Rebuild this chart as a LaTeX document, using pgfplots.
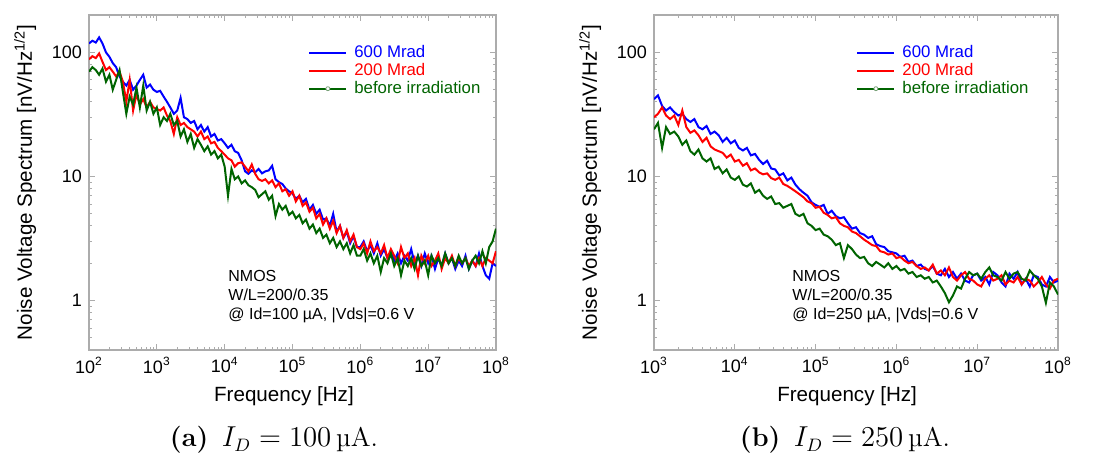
\documentclass[border=0pt]{standalone}
\usepackage{fontspec}
\usepackage{pgfplots}
\usepackage{pgfplotstable}
\pgfplotsset{compat=1.18}
\newfontfamily\arial{Liberation Sans}
\definecolor{dgreen}{RGB}{0,100,0}
\definecolor{lgreen}{RGB}{120,160,120}

% left panel: Id = 100 uA
\pgfplotstableread{
f b r g
1.00e2 118 88 70
1.12e2 124 93 76
1.26e2 120 90 72
1.41e2 132 98 66
1.58e2 118 84 74
1.78e2 100 72 58
2.00e2 92 76 66
2.24e2 82 70 50
2.51e2 76 64 60
2.82e2 64 70 72
3.16e2 58 58 48
3.55e2 54 40 32
3.98e2 60 60 44
4.47e2 50 34 38
5.01e2 54 46 52
5.62e2 60 38 36
6.31e2 66 42 54
7.08e2 52 36 34
7.94e2 55 40 40
8.91e2 50 36 32
1.00e3 48 35 36
1.12e3 49 34 26
1.26e3 44 36 30
1.41e3 40 31 28
1.58e3 36 28 32
1.78e3 32 22 26
2.00e3 34 30 28
2.24e3 43 26 21
2.51e3 30 27 24
2.82e3 29 25 19
3.16e3 27 24 22
3.55e3 28 23 17
3.98e3 24 21 20
4.47e3 26 23 18
5.01e3 23 20 16
5.62e3 25 21 17.5
6.31e3 21 18.5 15
7.08e3 22 19 16
7.94e3 19.5 17 14
8.91e3 20 16 15
1.00e4 18.5 15 12
1.12e4 17 14 7.0
1.26e4 18 13.5 11.5
1.41e4 16 12 9.5
1.58e4 15.5 12.8 10
1.78e4 13.5 13 8.8
2.00e4 11 12 9.3
2.24e4 10.5 11 8.5
2.51e4 11.2 12.5 8.2
2.82e4 10.8 10.5 7.8
3.16e4 11.5 9.5 6.8
3.55e4 10.6 9.2 7.2
3.98e4 11 9.5 7.6
4.47e4 11.2 8.8 6.5
5.01e4 12.2 9.3 7.0
5.62e4 9.5 8.2 4.8
6.31e4 9.0 8.8 6.0
7.08e4 8.7 7.6 5.4
7.94e4 8.0 7.9 5.8
8.91e4 7.6 7.0 4.9
1.00e5 7.3 7.6 5.2
1.12e5 6.6 6.3 4.6
1.26e5 7.0 7.0 4.9
1.41e5 6.2 5.8 4.2
1.58e5 6.6 6.2 4.5
1.78e5 5.4 5.2 3.8
2.00e5 5.9 5.6 4.1
2.24e5 5.0 4.6 3.5
2.51e5 5.4 5.0 3.8
2.82e5 4.5 4.1 3.2
3.16e5 4.6 4.6 3.4
3.55e5 4.0 3.8 2.9
3.98e5 5.0 4.4 3.2
4.47e5 3.6 3.5 2.7
5.01e5 4.0 4.0 3.0
5.62e5 3.2 3.2 2.6
6.31e5 3.6 3.7 2.9
7.08e5 2.9 3.0 2.4
7.94e5 3.3 3.4 2.8
8.91e5 2.7 2.7 2.3
1.00e6 2.7 2.6 2.3
1.12e6 3.0 2.9 2.6
1.26e6 2.5 2.4 2.1
1.41e6 2.8 3.0 2.4
1.58e6 2.4 2.5 2.0
1.78e6 2.9 2.7 2.3
2.00e6 2.3 2.4 1.7
2.24e6 2.6 2.8 2.2
2.51e6 2.2 2.2 2.0
2.82e6 2.5 2.6 2.4
3.16e6 2.1 2.3 1.9
3.55e6 2.4 2.0 2.2
3.98e6 2.0 2.7 1.6
4.47e6 2.3 2.2 2.1
5.01e6 2.1 2.4 1.9
5.62e6 2.6 1.9 2.2
6.31e6 2.0 2.2 1.8
7.08e6 2.3 1.6 2.3
7.94e6 1.9 2.3 1.9
8.91e6 2.4 2.0 2.1
1.00e7 2.0 2.3 1.6
1.12e7 2.3 1.9 2.3
1.26e7 1.8 2.1 2.0
1.41e7 2.2 2.4 2.2
1.58e7 1.9 1.8 1.9
1.78e7 2.4 2.2 2.4
2.00e7 2.0 2.0 2.0
2.24e7 2.2 2.3 2.2
2.51e7 1.8 1.9 1.9
2.82e7 2.1 2.2 2.3
3.16e7 1.9 2.0 2.0
3.55e7 2.3 2.2 2.2
3.98e7 1.8 1.9 1.8
4.47e7 2.1 2.1 2.1
5.01e7 1.9 1.9 2.3
5.62e7 2.4 2.2 2.0
6.31e7 1.9 1.9 2.5
7.08e7 1.6 2.2 2.0
7.94e7 1.5 2.1 2.7
8.91e7 2.0 2.0 3.0
1.00e8 1.9 2.5 3.8
}\tabA

% right panel: Id = 250 uA
\pgfplotstableread{
f b r g
1.00e3 42 30 24
1.12e3 45 32 27
1.26e3 37 36 17
1.41e3 34 31 25
1.58e3 36 29 22
1.78e3 33 31 23
2.00e3 31 26 21
2.24e3 32 34 18
2.51e3 29 25 19.5
2.82e3 27.5 22.5 16
3.16e3 29 23.5 15
3.55e3 25 21.5 16.5
3.98e3 24 19 14
4.47e3 25.5 20.5 13.2
5.01e3 22 17.5 14
5.62e3 23 16.5 11.5
6.31e3 21.5 16 12
7.08e3 19 15.5 10.6
7.94e3 20.5 14.2 11.4
8.91e3 18.5 15 9.8
1.00e4 19.5 13.2 9.4
1.12e4 17 13.6 10
1.26e4 16.2 12.2 8.6
1.41e4 17 12.8 8.3
1.58e4 14.8 11.2 8.8
1.78e4 15.2 11.6 7.4
2.00e4 13.6 10.8 7.8
2.24e4 12.6 10.4 7.0
2.51e4 13.4 10.6 6.6
2.82e4 11.6 9.7 6.9
3.16e4 11.4 9.4 6.0
3.55e4 10.2 9.8 6.1
3.98e4 10.6 8.7 5.6
4.47e4 9.3 8.4 5.8
5.01e4 9.8 8.0 6.0
5.62e4 8.6 7.6 5.0
6.31e4 7.9 7.2 4.8
7.08e4 7.4 6.8 5.0
7.94e4 7.0 6.3 4.2
8.91e4 6.2 6.1 4.0
1.00e5 5.9 5.6 3.7
1.12e5 5.7 5.7 3.8
1.26e5 5.9 5.1 3.4
1.41e5 5.0 4.9 3.3
1.58e5 5.3 4.6 3.1
1.78e5 4.8 4.7 2.8
2.00e5 4.6 4.2 2.9
2.24e5 4.7 4.0 2.2
2.51e5 4.2 3.9 2.8
2.82e5 3.8 3.6 2.6
3.16e5 3.9 3.5 2.35
3.55e5 3.5 3.3 2.2
3.98e5 3.4 3.1 2.25
4.47e5 3.2 2.95 2.0
5.01e5 3.3 2.8 1.9
5.62e5 2.85 2.75 2.05
6.31e5 2.75 2.5 1.95
7.08e5 2.7 2.45 1.85
7.94e5 2.5 2.35 2.0
8.91e5 2.45 2.4 1.8
1.00e6 2.4 2.2 1.9
1.12e6 2.25 2.25 1.75
1.26e6 2.3 2.1 1.8
1.41e6 2.05 2.0 1.65
1.58e6 2.1 2.05 1.7
1.78e6 1.9 1.9 1.55
2.00e6 1.95 1.8 1.6
2.24e6 1.8 1.85 1.5
2.51e6 1.75 1.75 1.55
2.82e6 1.9 1.95 1.4
3.16e6 1.65 1.65 1.45
3.55e6 1.6 1.75 1.3
3.98e6 1.8 1.6 1.15
4.47e6 1.55 1.85 0.97
5.01e6 1.7 1.55 1.1
5.62e6 1.5 1.45 1.3
6.31e6 1.65 1.6 1.25
7.08e6 1.45 1.7 1.5
7.94e6 1.4 1.5 1.7
8.91e6 1.6 1.45 1.6
1.00e7 1.65 1.35 1.65
1.12e7 1.45 1.3 1.5
1.26e7 1.55 1.5 1.7
1.41e7 1.35 1.6 1.85
1.58e7 1.7 1.45 1.6
1.78e7 1.6 1.5 1.55
2.00e7 1.4 1.6 1.45
2.24e7 1.3 1.35 1.7
2.51e7 1.65 1.45 1.5
2.82e7 1.5 1.4 1.65
3.16e7 1.7 1.55 1.7
3.55e7 1.35 1.35 1.5
3.98e7 1.5 1.5 1.45
4.47e7 1.3 1.45 1.75
5.01e7 1.6 1.3 1.6
5.62e7 1.55 1.4 1.5
6.31e7 1.35 1.55 1.3
7.08e7 1.3 1.35 0.96
7.94e7 1.55 1.25 1.4
8.91e7 1.4 1.45 1.3
1.00e8 1.45 1.5 1.12
}\tabB

\begin{document}
\begin{tikzpicture}
\useasboundingbox (0,0) rectangle (552pt,231.5pt);

\begin{axis}[
  xmode=log, ymode=log,
  scale only axis,
  at={(44.5pt,56.5pt)}, anchor=south west,
  width=203.5pt, height=167.5pt,
  xmin=1e2, xmax=1e8, ymin=0.4, ymax=200,
  axis line style={gray!65, line width=0.6pt},
  tick style={gray!65, line width=0.5pt},
  major tick length=3pt, minor tick length=1.6pt,
  xtick={1e2,1e3,1e4,1e5,1e6,1e7,1e8},
  xticklabels={10\textsuperscript{2},10\textsuperscript{3},10\textsuperscript{4},10\textsuperscript{5},10\textsuperscript{6},10\textsuperscript{7},10\textsuperscript{8}},
  ytick={1,10,100}, yticklabels={1,10,100},
  minor xtick={2e2,3e2,4e2,5e2,6e2,7e2,8e2,9e2,2e3,3e3,4e3,5e3,6e3,7e3,8e3,9e3,2e4,3e4,4e4,5e4,6e4,7e4,8e4,9e4,2e5,3e5,4e5,5e5,6e5,7e5,8e5,9e5,2e6,3e6,4e6,5e6,6e6,7e6,8e6,9e6,2e7,3e7,4e7,5e7,6e7,7e7,8e7,9e7},
  minor ytick={0.5,0.6,0.7,0.8,0.9,2,3,4,5,6,7,8,9,20,30,40,50,60,70,80,90,200},
  tick label style={font=\arial\fontsize{9}{10}\selectfont, black},
  label style={font=\arial\fontsize{10.3}{12}\selectfont},
  xlabel={Frequency [Hz]},
  ylabel={Noise Voltage Spectrum [nV/Hz\textsuperscript{1/2}]},
  xlabel style={at={(axis description cs:0.479,-0.137)}, anchor=center},
  ylabel style={at={(axis description cs:-0.157,0.5)}, anchor=center},
  legend cell align=left,
  legend image code/.code={\draw[#1] (0pt,0pt) -- (18.5pt,0pt);},
  legend style={draw=none, fill=none, font=\arial\fontsize{8.4}{10}\selectfont,
    at={(axis description cs:0.538,0.912)}, anchor=north west,
    inner sep=0pt, row sep=1.2pt,
    nodes={inner sep=0pt, text height=6.2pt, text depth=1.6pt}},
]
\addplot[blue, line width=1pt] table[x=f, y=b] {\tabA};
\addlegendentry{\hspace{3.5pt}\textcolor{blue}{600 Mrad}}
\addplot[red, line width=1pt] table[x=f, y=r] {\tabA};
\addlegendentry{\hspace{3.5pt}\textcolor{red}{200 Mrad}}
\addplot[dgreen, line width=1pt,
  legend image code/.code={\draw[dgreen, line width=1pt] (0pt,0pt) -- (18.5pt,0pt);
    \draw[lgreen, line width=0.4pt, fill=white] (9.25pt,0pt) circle (1pt);}]
  table[x=f, y=g] {\tabA};
\addlegendentry{\hspace{3.5pt}\textcolor{dgreen}{before irradiation}}
\node[anchor=north west, align=left, inner sep=0pt,
  font=\arial\fontsize{8}{9.5}\selectfont]
  at (axis description cs:0.3415,0.238)
  {NMOS\\W/L=200/0.35\\@ Id=100 µA, |Vds|=0.6 V};
\end{axis}

\begin{axis}[
  xmode=log, ymode=log,
  scale only axis,
  at={(327pt,56.5pt)}, anchor=south west,
  width=202pt, height=167.5pt,
  xmin=1e3, xmax=1e8, ymin=0.4, ymax=200,
  axis line style={gray!65, line width=0.6pt},
  tick style={gray!65, line width=0.5pt},
  major tick length=3pt, minor tick length=1.6pt,
  xtick={1e3,1e4,1e5,1e6,1e7,1e8},
  xticklabels={10\textsuperscript{3},10\textsuperscript{4},10\textsuperscript{5},10\textsuperscript{6},10\textsuperscript{7},10\textsuperscript{8}},
  ytick={1,10,100}, yticklabels={1,10,100},
  minor xtick={2e3,3e3,4e3,5e3,6e3,7e3,8e3,9e3,2e4,3e4,4e4,5e4,6e4,7e4,8e4,9e4,2e5,3e5,4e5,5e5,6e5,7e5,8e5,9e5,2e6,3e6,4e6,5e6,6e6,7e6,8e6,9e6,2e7,3e7,4e7,5e7,6e7,7e7,8e7,9e7},
  minor ytick={0.5,0.6,0.7,0.8,0.9,2,3,4,5,6,7,8,9,20,30,40,50,60,70,80,90,200},
  tick label style={font=\arial\fontsize{9}{10}\selectfont, black},
  label style={font=\arial\fontsize{10.3}{12}\selectfont},
  xlabel={Frequency [Hz]},
  ylabel={Noise Voltage Spectrum [nV/Hz\textsuperscript{1/2}]},
  xlabel style={at={(axis description cs:0.478,-0.137)}, anchor=center},
  ylabel style={at={(axis description cs:-0.158,0.5)}, anchor=center},
  legend cell align=left,
  legend image code/.code={\draw[#1] (0pt,0pt) -- (18.5pt,0pt);},
  legend style={draw=none, fill=none, font=\arial\fontsize{8.4}{10}\selectfont,
    at={(axis description cs:0.50,0.912)}, anchor=north west,
    inner sep=0pt, row sep=1.2pt,
    nodes={inner sep=0pt, text height=6.2pt, text depth=1.6pt}},
]
\addplot[blue, line width=1pt] table[x=f, y=b] {\tabB};
\addlegendentry{\hspace{3.5pt}\textcolor{blue}{600 Mrad}}
\addplot[red, line width=1pt] table[x=f, y=r] {\tabB};
\addlegendentry{\hspace{3.5pt}\textcolor{red}{200 Mrad}}
\addplot[dgreen, line width=1pt,
  legend image code/.code={\draw[dgreen, line width=1pt] (0pt,0pt) -- (18.5pt,0pt);
    \draw[lgreen, line width=0.4pt, fill=white] (9.25pt,0pt) circle (1pt);}]
  table[x=f, y=g] {\tabB};
\addlegendentry{\hspace{3.5pt}\textcolor{dgreen}{before irradiation}}
\node[anchor=north west, align=left, inner sep=0pt,
  font=\arial\fontsize{8}{9.5}\selectfont]
  at (axis description cs:0.3416,0.238)
  {NMOS\\W/L=200/0.35\\@ Id=250 µA, |Vds|=0.6 V};
\end{axis}

\node[font=\fontsize{13.5}{16}\selectfont] at (137pt,11.5pt)
  {\textbf{(a)}\enspace$I_D = 100\,$µA.};
\node[font=\fontsize{13.5}{16}\selectfont] at (422.5pt,11.5pt)
  {\textbf{(b)}\enspace$I_D = 250\,$µA.};
\end{tikzpicture}
\end{document}
